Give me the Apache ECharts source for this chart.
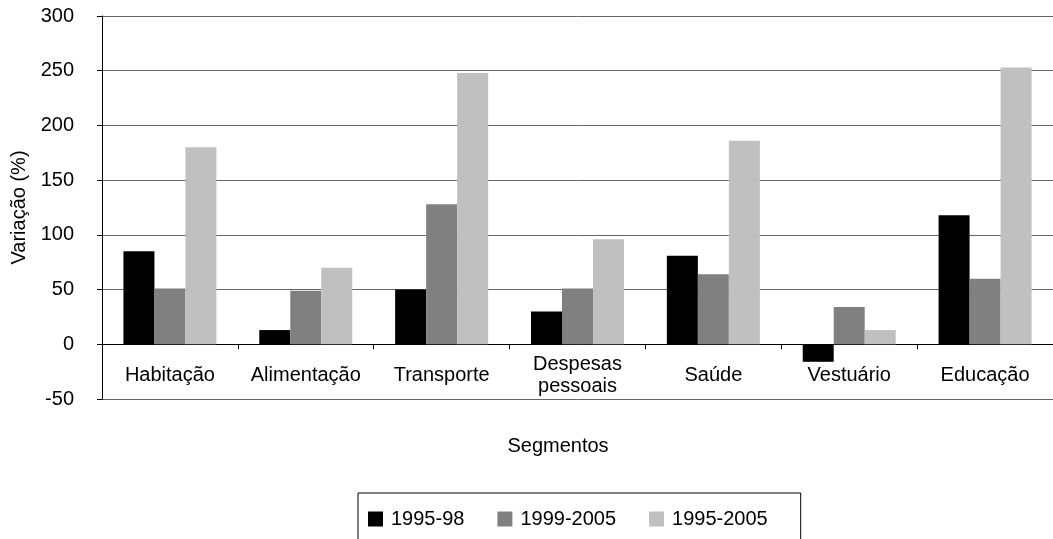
<!DOCTYPE html>
<html>
<head>
<meta charset="utf-8">
<title>Variação por segmento</title>
<script src="https://cdn.jsdelivr.net/npm/echarts@6/dist/echarts.min.js"></script>
<style>
  html, body { margin: 0; padding: 0; background: #fff; }
  #chart { width: 1053px; height: 539px; }
</style>
</head>
<body>
<div id="chart"></div>
<script>
// Segments and their percentage change per period
const categories = ['Habitação', 'Alimentação', 'Transporte', 'Despesas\npessoais', 'Saúde', 'Vestuário', 'Educação'];
const seriesNames = ['1995-98', '1999-2005', '1995-2005'];
const values1995to98 = [85, 13, 50, 30, 81, -16, 118];
const values1999to2005 = [51, 49, 128, 51, 64, 34, 60];
const values1995to2005 = [180, 70, 248, 96, 186, 13, 253];
const yMin = -50, yMax = 300, yStep = 50;

const FONT = '"Liberation Sans", Arial, sans-serif';
const colors = ['#000000', '#808080', '#c0c0c0'];
const seriesData = [values1995to98, values1999to2005, values1995to2005];

// Plot box in pixels; category labels sit just under the zero line
const GRID_TOP = 16, GRID_HEIGHT = 383;
const zeroOffset = GRID_HEIGHT * (0 - yMin) / (yMax - yMin);

const chart = echarts.init(document.getElementById('chart'), null, { renderer: 'canvas' });

chart.setOption({
  animation: false,
  backgroundColor: '#ffffff',
  textStyle: { fontFamily: FONT, color: '#000' },
  title: {
    text: 'Segmentos',
    left: 553,
    top: 431,
    textAlign: 'center',
    textStyle: { fontFamily: FONT, fontSize: 20, fontWeight: 'normal', color: '#000' }
  },
  legend: {
    data: seriesNames,
    left: 358,
    top: 493,
    orient: 'horizontal',
    padding: [16, 33, 40, 10],
    borderColor: '#000',
    borderWidth: 1,
    itemWidth: 15,
    itemHeight: 15,
    itemGap: 33,
    icon: 'rect',
    textStyle: { fontFamily: FONT, fontSize: 20, color: '#000', padding: [0, 0, 0, 3] }
  },
  grid: {
    left: 102,
    top: GRID_TOP,
    width: 960,
    height: GRID_HEIGHT,
    containLabel: false
  },
  xAxis: {
    type: 'category',
    data: categories,
    axisLine: { show: true, onZero: true, lineStyle: { color: '#000', width: 1 } },
    axisTick: { show: true, length: 5, lineStyle: { color: '#000' } },
    axisLabel: {
      fontFamily: FONT,
      fontSize: 20,
      color: '#000',
      interval: 0,
      margin: 31 - zeroOffset,
      lineHeight: 22,
      verticalAlign: 'middle'
    },
    splitLine: { show: false }
  },
  yAxis: {
    type: 'value',
    min: yMin,
    max: yMax,
    interval: yStep,
    name: 'Variação (%)',
    nameLocation: 'middle',
    nameGap: 72,
    nameTextStyle: { fontFamily: FONT, fontSize: 20, color: '#000' },
    axisLine: { show: true, lineStyle: { color: '#000', width: 1 } },
    axisTick: { show: true, length: 5, lineStyle: { color: '#000' } },
    axisLabel: { fontFamily: FONT, fontSize: 20, color: '#000', margin: 28 },
    splitLine: { show: true, lineStyle: { color: '#666', width: 1 } }
  },
  series: seriesNames.map((name, i) => ({
    name: name,
    type: 'bar',
    data: seriesData[i],
    barWidth: 31,
    barGap: '0%',
    barCategoryGap: '32%',
    itemStyle: { color: colors[i] }
  }))
});
</script>
</body>
</html>
